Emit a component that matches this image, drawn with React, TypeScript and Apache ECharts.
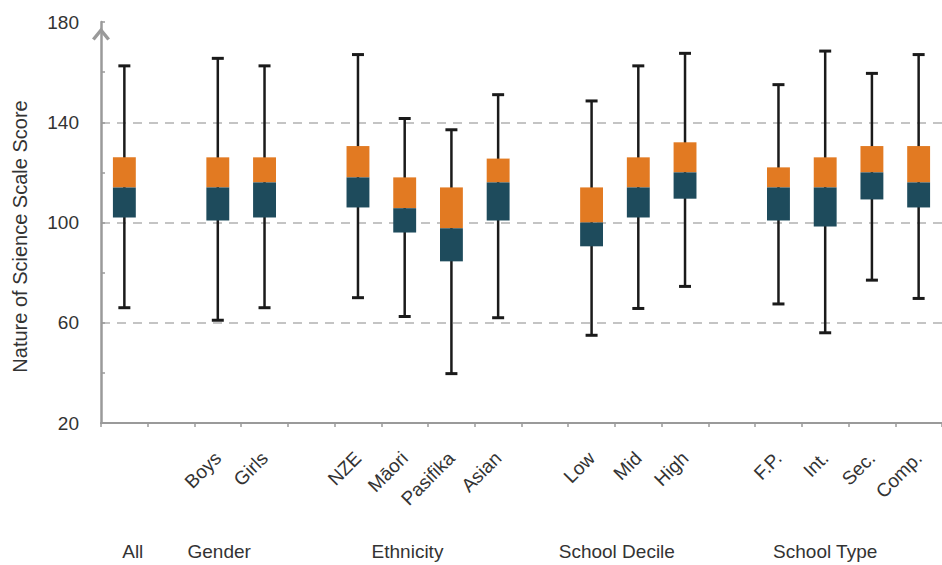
import React, { useEffect, useRef } from "react";
import * as echarts from "echarts";

// Categories along the x axis (gap entries separate the groups)
const categories = [
  "All", "gap1", "Boys", "Girls", "gap2", "NZE", "Māori", "Pasifika", "Asian",
  "gap3", "Low", "Mid", "High", "gap4", "F.P.", "Int.", "Sec.", "Comp.",
];
const hiddenLabels = ["All", "gap1", "gap2", "gap3", "gap4"];

// Box-plot statistics per category (null for gap columns)
const mins = [66, null, 61, 66, null, 70, 62.5, 39.7, 62, null, 55, 65.7, 74.5, null, 67.5, 56, 77, 69.7];
const q1s = [102, null, 100.8, 102, null, 106, 96, 84.5, 100.8, null, 90.5, 102, 109.5, null, 100.8, 98.4, 109.2, 106];
const medians = [114, null, 114, 116, null, 118, 105.7, 97.7, 116, null, 100, 114, 120, null, 114, 114, 120, 116];
const q3s = [126, null, 126, 126, null, 130.5, 118, 114, 125.5, null, 114, 126, 132, null, 122, 126, 130.5, 130.5];
const maxs = [162.5, null, 165.5, 162.5, null, 167, 141.5, 137, 151, null, 148.5, 162.5, 167.5, null, 155, 168.4, 159.5, 167];

// Y axis
const yMin = 20;
const yMax = 180;
const yInterval = 40;
const yTitle = "Nature of Science Scale Score";

// Group labels under the axis, positioned in category-index units
const groupNames = ["All", "Gender", "Ethnicity", "School Decile", "School Type"];
const groupPositions = [0.18, 2.03, 6.06, 10.54, 15.0];

const FONT = "'Liberation Sans', Arial, Helvetica, sans-serif";
const TEXT_COLOR = "#333333";
const AXIS_COLOR = "#9a9a9a";
const ORANGE = "#E27A22";
const TEAL = "#1E4B5C";
const WHISKER = "#1a1a1a";

export default function App() {
  const ref = useRef<HTMLDivElement>(null);

  useEffect(() => {
    if (!ref.current) return;
    const chart = echarts.init(ref.current, null, { renderer: "svg" });

    const data: number[][] = [];
    categories.forEach((_, i) => {
      if (mins[i] == null) return;
      data.push([i, mins[i] as number, q1s[i] as number, medians[i] as number, q3s[i] as number, maxs[i] as number]);
    });

    chart.setOption({
      animation: false,
      backgroundColor: "#ffffff",
      grid: { left: 101, right: -7, top: 22, bottom: 142, containLabel: false },
      xAxis: {
        type: "category",
        data: categories,
        boundaryGap: true,
        axisLine: { show: true, lineStyle: { color: AXIS_COLOR, width: 2 } },
        axisTick: { show: true, length: 4, lineStyle: { color: AXIS_COLOR, width: 1.5 } },
        axisLabel: {
          rotate: 45,
          margin: 32,
          interval: 0,
          fontSize: 19,
          fontFamily: FONT,
          color: TEXT_COLOR,
          formatter: (v: string) => (hiddenLabels.includes(v) ? "" : v),
        },
        splitLine: { show: false },
      },
      yAxis: {
        type: "value",
        min: yMin,
        max: yMax,
        interval: yInterval,
        name: yTitle,
        nameLocation: "middle",
        nameGap: 71,
        nameTextStyle: { fontSize: 20, fontFamily: FONT, color: TEXT_COLOR, padding: [0, 28, 0, 0] },
        axisLine: {
          show: true,
          symbol: ["none", "path://M0,11 L9,0 L18,11 L15.3,13 L9,5.2 L2.7,13 Z"],
          symbolSize: [18, 13],
          symbolOffset: [0, -12],
          lineStyle: { color: AXIS_COLOR, width: 2.5 },
        },
        axisTick: { show: true, inside: true, length: 4, lineStyle: { color: AXIS_COLOR, width: 1.5 } },
        minorTick: { show: true, splitNumber: 2, length: 4, lineStyle: { color: AXIS_COLOR, width: 1.5 } },
        axisLabel: { margin: 22, fontSize: 19, fontFamily: FONT, color: TEXT_COLOR },
        splitLine: {
          show: true,
          showMinLine: false,
          showMaxLine: false,
          lineStyle: { color: "#c4c4c4", width: 2, type: [9, 7] },
        },
      },
      series: [
        {
          type: "custom",
          data,
          encode: { x: 0, y: [1, 2, 3, 4, 5] },
          clip: false,
          renderItem: (params: any, api: any) => {
            const x = api.value(0);
            const lo = api.coord([x, api.value(1)]);
            const q1 = api.coord([x, api.value(2)]);
            const md = api.coord([x, api.value(3)]);
            const q3 = api.coord([x, api.value(4)]);
            const hi = api.coord([x, api.value(5)]);
            const bw = api.size([1, 0])[0] * 0.49;
            const cw = 12;
            const cx = md[0];
            return {
              type: "group",
              children: [
                { type: "line", shape: { x1: cx, y1: lo[1], x2: cx, y2: hi[1] }, style: { stroke: WHISKER, lineWidth: 2.5 } },
                { type: "line", shape: { x1: cx - cw / 2, y1: hi[1], x2: cx + cw / 2, y2: hi[1] }, style: { stroke: WHISKER, lineWidth: 3 } },
                { type: "line", shape: { x1: cx - cw / 2, y1: lo[1], x2: cx + cw / 2, y2: lo[1] }, style: { stroke: WHISKER, lineWidth: 3 } },
                { type: "rect", shape: { x: cx - bw / 2, y: q3[1], width: bw, height: md[1] - q3[1] }, style: { fill: ORANGE } },
                { type: "rect", shape: { x: cx - bw / 2, y: md[1], width: bw, height: q1[1] - md[1] }, style: { fill: TEAL } },
              ],
            };
          },
        },
      ],
    });

    const p0 = chart.convertToPixel({ xAxisIndex: 0 }, 0) as number;
    const p1 = chart.convertToPixel({ xAxisIndex: 0 }, 1) as number;
    const step = p1 - p0;
    chart.setOption({
      graphic: groupNames.map((name, i) => ({
        type: "text",
        x: p0 + step * groupPositions[i],
        y: 551,
        style: {
          text: name,
          align: "center",
          verticalAlign: "middle",
          fontSize: 19,
          fontFamily: FONT,
          fill: TEXT_COLOR,
        },
      })),
    });

    return () => chart.dispose();
  }, []);

  return (
    <div
      ref={ref}
      style={{ position: "absolute", left: 0, top: 0, width: 942, height: 565, background: "#fff" }}
    />
  );
}
